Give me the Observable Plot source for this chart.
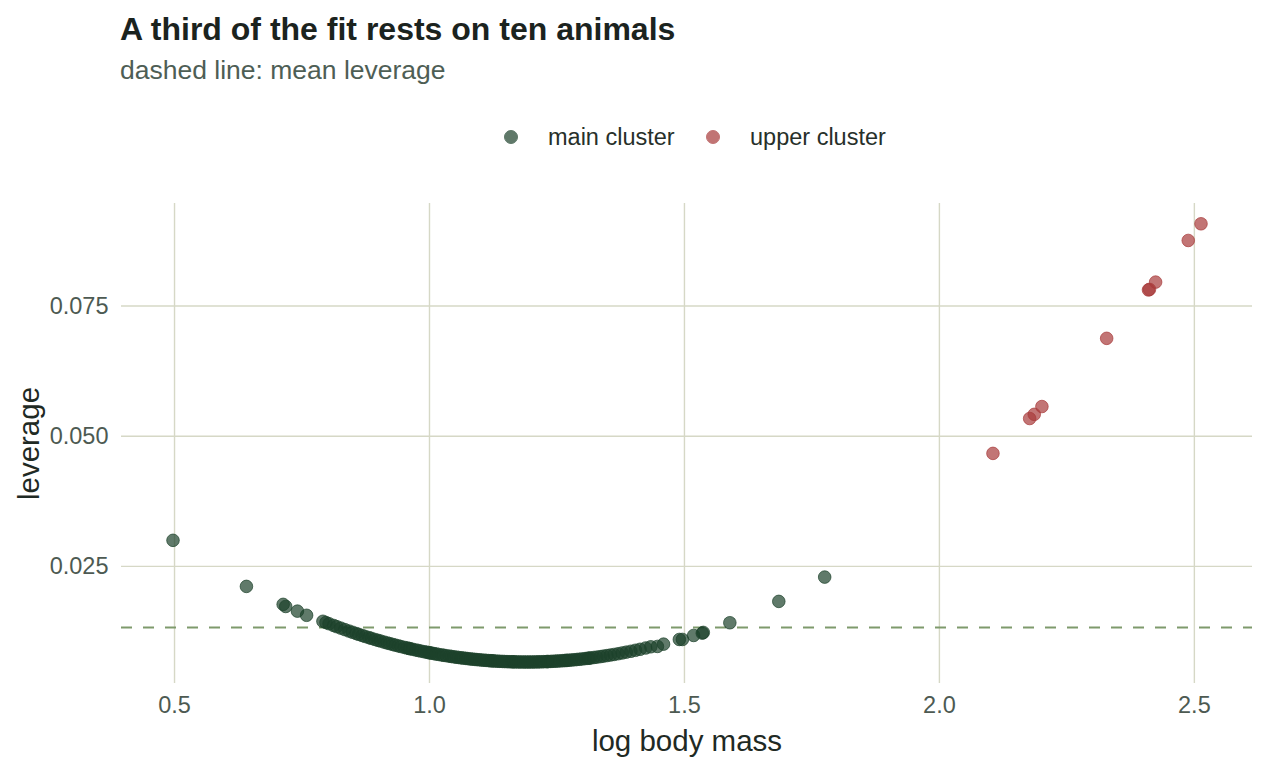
<!DOCTYPE html>
<html>
<head>
<meta charset="utf-8">
<script src="https://cdn.jsdelivr.net/npm/d3@7"></script>
<script src="https://cdn.jsdelivr.net/npm/@observablehq/plot@0.6"></script>
<style>
  html, body { margin: 0; padding: 0; background: #ffffff; }
  body { width: 1267px; height: 768px; overflow: hidden; font-family: "Liberation Sans", Arial, Helvetica, sans-serif; }
  #header { position: relative; width: 1267px; height: 170px; }
  #title { position: absolute; left: 120px; top: 13px; font-size: 32px; line-height: 1; font-weight: bold; color: #1b231e; white-space: nowrap; }
  #subtitle { position: absolute; left: 120px; top: 57px; font-size: 26.5px; line-height: 1; color: #4e5e55; white-space: nowrap; }
  #legend { position: absolute; left: 0; top: 122px; width: 1267px; height: 30px; }
  .key { position: absolute; top: 0; display: flex; align-items: center; height: 30px; font-size: 23.5px; color: #27302a; white-space: nowrap; }
  .swatch { width: 14px; height: 14px; border-radius: 50%; margin-right: 30px; box-sizing: border-box; }
</style>
</head>
<body>
<div id="header">
  <div id="title">A third of the fit rests on ten animals</div>
  <div id="subtitle">dashed line: mean leverage</div>
  <div id="legend"></div>
</div>
<div id="chart"></div>
<script>
// Main cluster: log body mass and leverage of each animal
const mainMass = [
  0.497, 0.641, 0.713, 0.718, 0.741, 0.759,
  0.791, 0.797, 0.803, 0.812, 0.818, 0.826, 0.834, 0.842, 0.849, 0.856,
  0.861, 0.868, 0.874, 0.881, 0.886, 0.893, 0.899, 0.904, 0.911, 0.917,
  0.922, 0.928, 0.933, 0.939, 0.944, 0.951, 0.956, 0.960, 0.962, 0.967,
  0.973, 0.978, 0.983, 0.989, 0.994, 0.998, 1.001, 1.004, 1.009, 1.013,
  1.018, 1.024, 1.028, 1.033, 1.039, 1.043, 1.048, 1.053, 1.057, 1.062,
  1.066, 1.071, 1.075, 1.080, 1.084, 1.089, 1.093, 1.098, 1.102, 1.107,
  1.111, 1.116, 1.120, 1.122, 1.125, 1.129, 1.134, 1.138, 1.143, 1.147,
  1.152, 1.156, 1.161, 1.163, 1.166, 1.170, 1.175, 1.179, 1.184, 1.188,
  1.193, 1.197, 1.202, 1.206, 1.211, 1.215, 1.220, 1.224, 1.229, 1.231,
  1.233, 1.238, 1.242, 1.247, 1.251, 1.256, 1.261, 1.265, 1.268, 1.270,
  1.274, 1.279, 1.284, 1.289, 1.294, 1.299, 1.305, 1.310, 1.313, 1.316,
  1.322, 1.328, 1.335, 1.341, 1.348, 1.355, 1.362, 1.370, 1.378, 1.386,
  1.395, 1.404, 1.413, 1.424, 1.434,
  1.447, 1.459, 1.490, 1.496, 1.518, 1.535, 1.537, 1.589, 1.685, 1.775
];
const mainLeverage = [
  0.0300, 0.02115, 0.0177, 0.0173, 0.0164, 0.0156,
  0.01445, 0.01421, 0.01398, 0.01365, 0.01342, 0.01314, 0.01285, 0.01258, 0.01234, 0.01211,
  0.01194, 0.01172, 0.01153, 0.01132, 0.01117, 0.01096, 0.01079, 0.01065, 0.01045, 0.01029,
  0.01016, 0.01000, 0.00987, 0.00972, 0.00960, 0.00943, 0.00932, 0.00923, 0.00918, 0.00907,
  0.00894, 0.00884, 0.00873, 0.00861, 0.00852, 0.00844, 0.00838, 0.00833, 0.00824, 0.00817,
  0.00808, 0.00798, 0.00792, 0.00784, 0.00775, 0.00769, 0.00762, 0.00755, 0.00750, 0.00743,
  0.00739, 0.00733, 0.00728, 0.00722, 0.00718, 0.00713, 0.00709, 0.00705, 0.00701, 0.00697,
  0.00694, 0.00690, 0.00687, 0.00686, 0.00684, 0.00681, 0.00678, 0.00676, 0.00674, 0.00672,
  0.00670, 0.00669, 0.00667, 0.00667, 0.00666, 0.00665, 0.00664, 0.00664, 0.00663, 0.00663,
  0.00663, 0.00663, 0.00664, 0.00664, 0.00665, 0.00666, 0.00667, 0.00669, 0.00670, 0.00671,
  0.00672, 0.00674, 0.00676, 0.00679, 0.00681, 0.00684, 0.00688, 0.00691, 0.00693, 0.00694,
  0.00698, 0.00702, 0.00706, 0.00711, 0.00716, 0.00721, 0.00728, 0.00734, 0.00737, 0.00741,
  0.00749, 0.00756, 0.00766, 0.00775, 0.00786, 0.00797, 0.00808, 0.00822, 0.00837, 0.00852,
  0.00869, 0.00888, 0.00907, 0.00932, 0.00955,
  0.00962, 0.01006, 0.01096, 0.01096, 0.01173, 0.01217, 0.01231, 0.01417, 0.01827, 0.02294
];

// Upper cluster: the ten heaviest animals
const upperMass = [2.105, 2.177, 2.186, 2.201, 2.328, 2.410, 2.412, 2.424, 2.488, 2.513];
const upperLeverage = [0.0467, 0.0534, 0.0542, 0.0557, 0.0688, 0.0781, 0.0782, 0.0796, 0.0876, 0.0908];

const clusterNames = ["main cluster", "upper cluster"];
const clusterColors = ["#1d412b", "#a83a3a"];
const meanLeverage = 0.01326;

const xTicks = [0.5, 1.0, 1.5, 2.0, 2.5];
const yTicks = [0.025, 0.050, 0.075];

const points = [
  ...mainMass.map((m, i) => ({mass: m, leverage: mainLeverage[i], cluster: clusterNames[0]})),
  ...upperMass.map((m, i) => ({mass: m, leverage: upperLeverage[i], cluster: clusterNames[1]}))
];

// Legend above the plot
const legend = document.getElementById("legend");
const keyLefts = [504, 706];
clusterNames.forEach((name, i) => {
  const key = document.createElement("div");
  key.className = "key";
  key.style.left = keyLefts[i] + "px";
  const sw = document.createElement("span");
  sw.className = "swatch";
  sw.style.background = clusterColors[i];
  sw.style.opacity = 0.7;
  sw.style.border = "1px solid " + clusterColors[i];
  key.appendChild(sw);
  key.appendChild(document.createTextNode(name));
  legend.appendChild(key);
});

const gridColor = "#d6d8c6";

const chart = Plot.plot({
  width: 1267,
  height: 598,
  marginTop: 33,
  marginBottom: 85,
  marginLeft: 121,
  marginRight: 15,
  style: {fontFamily: "'Liberation Sans', Arial, Helvetica, sans-serif", background: "#ffffff"},
  x: {domain: [0.396, 2.614]},
  y: {domain: [0.0025, 0.0947]},
  color: {domain: clusterNames, range: clusterColors},
  marks: [
    Plot.ruleX(xTicks, {x: d => d, stroke: gridColor, strokeWidth: 1.4}),
    Plot.ruleY(yTicks, {y: d => d, stroke: gridColor, strokeWidth: 1.4}),
    Plot.axisX({ticks: xTicks, tickFormat: d3.format(".1f"), tickSize: 0, tickPadding: 13, fontSize: 23.5, fill: "#4d5a52", label: null}),
    Plot.axisY({ticks: yTicks, tickFormat: d3.format(".3f"), tickSize: 0, tickPadding: 13, fontSize: 23.5, fill: "#4d5a52", label: null}),
    Plot.text(["log body mass"], {frameAnchor: "bottom", lineAnchor: "middle", textAnchor: "middle", dy: 58, fontSize: 29.5, fill: "#1f2a24"}),
    Plot.text(["leverage"], {frameAnchor: "left", lineAnchor: "middle", textAnchor: "middle", dx: -92, rotate: -90, fontSize: 29.5, fill: "#1f2a24"}),
    Plot.ruleY([meanLeverage], {stroke: "#7e9a6c", strokeWidth: 2, strokeDasharray: "11,11"}),
    Plot.dot(points, {
      x: "mass", y: "leverage", fill: "cluster", stroke: "cluster",
      r: 6.3, fillOpacity: 0.7, strokeOpacity: 0.7, strokeWidth: 1
    })
  ]
});
document.getElementById("chart").appendChild(chart);
</script>
</body>
</html>
